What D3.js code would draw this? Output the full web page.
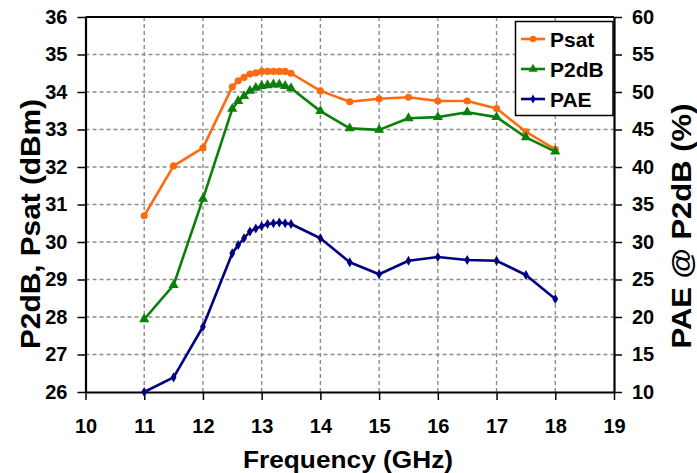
<!DOCTYPE html>
<html>
<head>
<meta charset="utf-8">
<script src="https://cdn.jsdelivr.net/npm/d3@7"></script>
<style>
  html, body { margin: 0; padding: 0; background: #fff; }
  svg { display: block; }
  text { font-family: "Liberation Sans", Arial, sans-serif; font-weight: bold; fill: #000; }
</style>
</head>
<body>
<svg id="chart" width="697" height="473"></svg>
<script>
// ---- data ----
const freq = [11, 11.5, 12, 12.5, 12.6, 12.7, 12.8, 12.9, 13.0, 13.1, 13.2, 13.3, 13.4, 13.5, 14, 14.5, 15, 15.5, 16, 16.5, 17, 17.5, 18];
const psat = [30.70, 32.03, 32.51, 34.14, 34.30, 34.39, 34.48, 34.51, 34.55, 34.55, 34.55, 34.55, 34.55, 34.50, 34.03, 33.74, 33.82, 33.86, 33.76, 33.76, 33.56, 32.94, 32.47];
const p2db = [27.94, 28.85, 31.15, 33.55, 33.76, 33.89, 34.03, 34.11, 34.16, 34.18, 34.20, 34.20, 34.16, 34.10, 33.49, 33.03, 32.99, 33.30, 33.33, 33.46, 33.33, 32.79, 32.41];
const pae  = [10.0, 11.96, 18.7, 28.5, 29.6, 30.5, 31.4, 31.8, 32.1, 32.4, 32.5, 32.6, 32.5, 32.4, 30.5, 27.3, 25.7, 27.5, 28.0, 27.6, 27.5, 25.6, 22.4];
const xTicks = [10, 11, 12, 13, 14, 15, 16, 17, 18, 19];
const yLeftTicks = [26, 27, 28, 29, 30, 31, 32, 33, 34, 35, 36];
const yRightTicks = [10, 15, 20, 25, 30, 35, 40, 45, 50, 55, 60];
const seriesNames = ["Psat", "P2dB", "PAE"];
const colors = ["#ff6a10", "#0a800a", "#000080"];

// ---- layout ----
const L = 85.5, R = 614, T = 17, B = 392;
const svg = d3.select("#chart");
const x = d3.scaleLinear().domain([10, 19]).range([L, R]);
const yL = d3.scaleLinear().domain([26, 36]).range([B, T]);
const yR = d3.scaleLinear().domain([10, 60]).range([B, T]);

// gridlines
const grid = svg.append("g").attr("stroke", "#8c8c8c").attr("stroke-width", 1.4).attr("stroke-dasharray", "4,3");
grid.selectAll("line.v").data(xTicks.slice(1, -1)).join("line")
  .attr("x1", d => x(d)).attr("x2", d => x(d)).attr("y1", T).attr("y2", B);
grid.selectAll("line.h").data(yLeftTicks.slice(1, -1)).join("line")
  .attr("x1", L).attr("x2", R).attr("y1", d => yL(d)).attr("y2", d => yL(d));

// axes
const fmt = d3.format("d");
const axB = svg.append("g").attr("transform", `translate(0,${B})`)
  .call(d3.axisBottom(x).tickValues(xTicks).tickFormat(fmt).tickSizeInner(8).tickSizeOuter(0).tickPadding(19));
const axLft = svg.append("g").attr("transform", `translate(${L},0)`)
  .call(d3.axisLeft(yL).tickValues(yLeftTicks).tickFormat(fmt).tickSizeInner(8).tickSizeOuter(0).tickPadding(10));
const axRgt = svg.append("g").attr("transform", `translate(${R},0)`)
  .call(d3.axisRight(yR).tickValues(yRightTicks).tickFormat(fmt).tickSizeInner(8).tickSizeOuter(0).tickPadding(10));
[axB, axLft, axRgt].forEach(g => {
  g.select(".domain").attr("stroke", "#000").attr("stroke-width", 2.2);
  g.selectAll(".tick line").attr("stroke", "#000").attr("stroke-width", 1.5);
  g.selectAll(".tick text").style("font-size", "20px").attr("fill", "#000");
});
// top border
svg.append("line").attr("x1", L).attr("x2", R).attr("y1", T).attr("y2", T)
  .attr("stroke", "#000").attr("stroke-width", 2);

// series
const seriesData = [psat, p2db, pae];
const yScales = [yL, yL, yR];
const symbols = [d3.symbolCircle, d3.symbolTriangle, d3.symbolDiamond];
const symSizes = [40, 45, 30];
seriesData.forEach((vals, i) => {
  const pts = freq.map((f, j) => [f, vals[j]]);
  const line = d3.line().x(d => x(d[0])).y(d => yScales[i](d[1]));
  const g = svg.append("g");
  g.append("path").datum(pts).attr("d", line).attr("fill", "none")
    .attr("stroke", colors[i]).attr("stroke-width", 2.6).attr("stroke-linejoin", "round");
  g.selectAll("path.m").data(pts).join("path").attr("class", "m")
    .attr("transform", d => `translate(${x(d[0])},${yScales[i](d[1])})`)
    .attr("d", d3.symbol().type(symbols[i]).size(symSizes[i]))
    .attr("fill", colors[i]);
});

// legend
const lg = svg.append("g");
lg.append("rect").attr("x", 515.5).attr("y", 21.5).attr("width", 97.5).attr("height", 94)
  .attr("fill", "#fff").attr("stroke", "#000").attr("stroke-width", 1.5);
seriesNames.forEach((name, i) => {
  const yy = 39 + i * 30;
  lg.append("line").attr("x1", 521).attr("x2", 545).attr("y1", yy).attr("y2", yy)
    .attr("stroke", colors[i]).attr("stroke-width", 2.6);
  lg.append("path").attr("transform", `translate(533,${yy})`)
    .attr("d", d3.symbol().type(symbols[i]).size(symSizes[i] * 0.8)).attr("fill", colors[i]);
  lg.append("text").attr("x", 550).attr("y", yy).attr("dy", "0.36em")
    .style("font-size", "21px").text(name);
});

// axis titles
svg.append("text").attr("x", 348).attr("y", 468).attr("text-anchor", "middle")
  .attr("textLength", 210).attr("lengthAdjust", "spacingAndGlyphs")
  .style("font-size", "23px").text("Frequency (GHz)");
svg.append("text").attr("transform", "translate(40,224) rotate(-90)").attr("text-anchor", "middle")
  .attr("textLength", 250).attr("lengthAdjust", "spacingAndGlyphs")
  .style("font-size", "28px").text("P2dB, Psat (dBm)");
svg.append("text").attr("transform", "translate(691,226) rotate(-90)").attr("text-anchor", "middle")
  .attr("textLength", 245).attr("lengthAdjust", "spacingAndGlyphs")
  .style("font-size", "27px").text("PAE @ P2dB (%)");
</script>
</body>
</html>
